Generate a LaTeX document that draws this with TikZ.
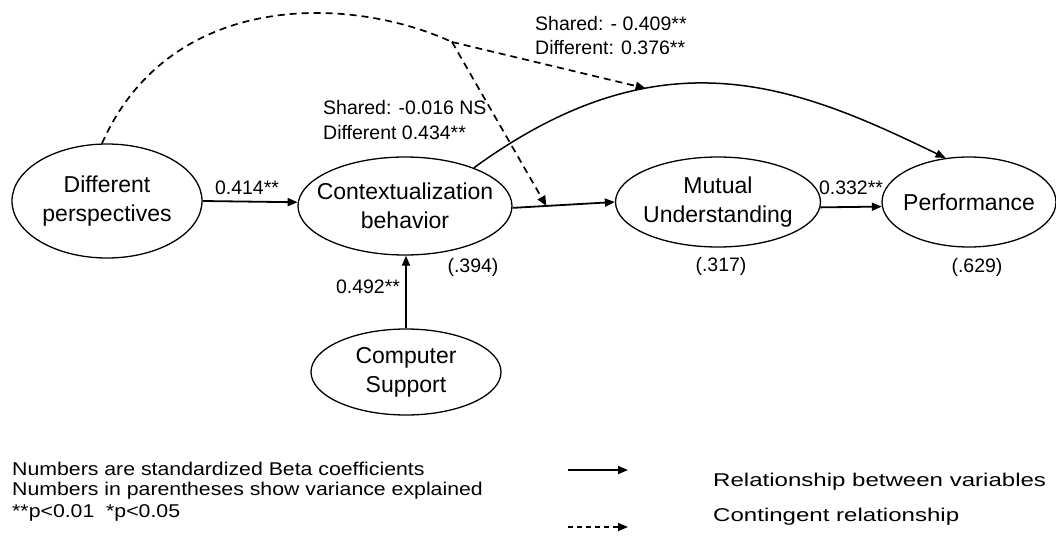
\documentclass[tikz,border=0pt]{standalone}
\usepackage{fontspec}
\setmainfont{Liberation Sans}
\newfontfamily\legfontA[FakeStretch=1.15]{Liberation Sans}
\newfontfamily\legfontB[FakeStretch=1.3]{Liberation Sans}
\usetikzlibrary{arrows.meta,shapes.geometric}
\begin{document}
\begin{tikzpicture}[x=1pt,y=-1pt,
  ell/.style={draw, ellipse, line width=1.3pt, inner sep=0pt},
  big/.style={font=\fontsize{23}{29}\selectfont, align=center, inner sep=0pt},
  small/.style={font=\fontsize{19.5}{24}\selectfont, inner sep=0pt},
  legA/.style={font=\legfontA\fontsize{18.5}{22}\selectfont, inner sep=0pt, anchor=west},
  legB/.style={font=\legfontB\fontsize{18.5}{22}\selectfont, inner sep=0pt, anchor=west},
  arr/.style={line width=1.8pt, -{Triangle[length=10pt,width=8pt]}},
  curvearr/.style={line width=1.5pt, -{Triangle[length=10pt,width=8pt]}},
  dshline/.style={line width=1.7pt, dash pattern=on 7pt off 5pt},
  dsh/.style={dshline, -{Triangle[length=10pt,width=8.5pt]}},
  dshleg/.style={line width=1.7pt, dash pattern=on 5pt off 4pt, -{Triangle[length=10pt,width=8pt]}},
]
\useasboundingbox (0,0) rectangle (1056,541);

% ellipses
\node[ell, minimum width=190pt, minimum height=114pt] (dp) at (107,201) {};
\node[ell, minimum width=214pt, minimum height=98pt] (ctx) at (405,206) {};
\node[ell, minimum width=205pt, minimum height=90pt] (mu) at (718,202) {};
\node[ell, minimum width=174pt, minimum height=90pt] (perf) at (969,202) {};
\node[ell, minimum width=190pt, minimum height=86pt] (cs) at (406,372) {};

\node[big] (dpt) at (dp) {Different\\perspectives};
\node[big] (ctxt) at (ctx) {Contextualization\\behavior};
\node[big] (mut) at (mu) {Mutual\\Understanding};
\node[big] (perft) at (perf) {Performance};
\node[big] (cst) at (cs) {Computer\\Support};

% solid connectors
\draw[arr] (dp.east) -- (ctx.178);
\draw[arr] (ctx.-1) -- (mu.west) coordinate[pos=0.33] (cmu);
\draw[arr] (mu.-3) -- (perf.183);
\draw[arr] (cs.north) -- (cs.north |- ctx.south);
\draw[curvearr] (ctx.29) .. controls (663,30) and (797,86) .. (perf.118)
  coordinate[pos=0.33] (cm);

% dashed contingent connectors
\coordinate (kink) at (452,42);
\draw[dshline] (dp.95) .. controls (170,-10) and (350,-5) .. (kink);
\draw[dsh] (kink) -- (cm);
\draw[dsh] (kink) -- (cmu);

% labels
\node[small, anchor=west] (s1) at (535,24) {Shared: - 0.409**};
\node[small, anchor=west] (s2) at (535,48) {Different: 0.376**};
\node[small, anchor=west] (s3) at (323,108) {Shared: -0.016 NS};
\node[small, anchor=west] (s4) at (323,133) {Different 0.434**};
\node[small] (b1) at (247,188) {0.414**};
\node[small] (b2) at (368,287) {0.492**};
\node[small] (b3) at (851,188) {0.332**};
\node[small] (v1) at (473,267) {(.394)};
\node[small] (v2) at (721,266) {(.317)};
\node[small] (v3) at (977,267) {(.629)};

% legend
\node[legA] (l1) at (12,469) {Numbers are standardized Beta coefficients};
\node[legA] (l2) at (12,491) {Numbers in parentheses show variance explained};
\node[legA] (l3) at (12,513) {**p<0.01\ \ *p<0.05};
\coordinate (la1) at (568,470);
\coordinate (la2) at (628,470);
\coordinate (lb1) at (568,527);
\coordinate (lb2) at (628,527);
\draw[arr] (la1) -- (la2);
\draw[dshleg] (lb1) -- (lb2);
\node[legB] (r1) at (713,482) {Relationship between variables};
\node[legB] (r2) at (713,517) {Contingent relationship};
\end{tikzpicture}
\end{document}
